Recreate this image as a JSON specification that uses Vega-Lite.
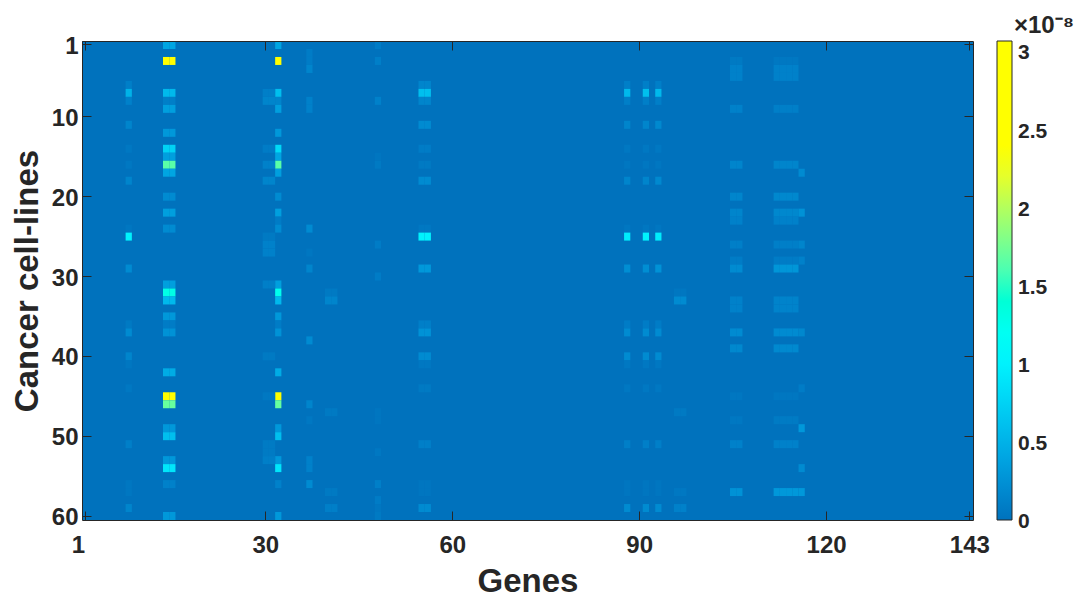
{"$schema":"https://vega.github.io/schema/vega-lite/v6.json","autosize":{"type":"none"},"padding":{"left":82,"top":41,"right":102,"bottom":76},"width":891,"height":479,"background":"white","view":{"fill":"#0072BD","stroke":null},"config":{"font":"Liberation Sans"},
"datasets":{"cells":[
{"c":14,"r":1,"v":0.4},{"c":15,"r":1,"v":0.4},{"c":32,"r":1,"v":0.4},{"c":14,"r":3,"v":3.05},{"c":15,"r":3,"v":3.05},{"c":32,"r":3,"v":3.05},{"c":14,"r":7,"v":0.55},{"c":15,"r":7,"v":0.55},{"c":32,"r":7,"v":0.6},{"c":14,"r":8,"v":0.1},{"c":15,"r":8,"v":0.1},{"c":32,"r":8,"v":0.15},{"c":14,"r":9,"v":0.35},{"c":15,"r":9,"v":0.35},{"c":32,"r":9,"v":0.35},{"c":14,"r":12,"v":0.3},{"c":15,"r":12,"v":0.3},{"c":32,"r":12,"v":0.3},{"c":14,"r":14,"v":0.75},{"c":15,"r":14,"v":0.75},{"c":32,"r":14,"v":0.8},{"c":14,"r":15,"v":0.35},{"c":15,"r":15,"v":0.35},{"c":32,"r":15,"v":0.4},{"c":14,"r":16,"v":1.65},{"c":15,"r":16,"v":1.65},{"c":32,"r":16,"v":1.65},{"c":14,"r":17,"v":0.4},{"c":15,"r":17,"v":0.4},{"c":32,"r":17,"v":0.35},{"c":14,"r":20,"v":0.2},{"c":15,"r":20,"v":0.2},{"c":32,"r":20,"v":0.2},{"c":14,"r":22,"v":0.35},{"c":15,"r":22,"v":0.35},{"c":32,"r":22,"v":0.35},{"c":32,"r":23,"v":0.08},{"c":14,"r":24,"v":0.2},{"c":15,"r":24,"v":0.2},{"c":32,"r":24,"v":0.2},{"c":14,"r":31,"v":0.35},{"c":15,"r":31,"v":0.35},{"c":32,"r":31,"v":0.35},{"c":14,"r":32,"v":1.3},{"c":15,"r":32,"v":1.3},{"c":32,"r":32,"v":1.25},{"c":14,"r":33,"v":0.55},{"c":15,"r":33,"v":0.55},{"c":32,"r":33,"v":0.55},{"c":14,"r":35,"v":0.3},{"c":15,"r":35,"v":0.3},{"c":32,"r":35,"v":0.3},{"c":14,"r":36,"v":0.08},{"c":15,"r":36,"v":0.08},{"c":32,"r":36,"v":0.08},{"c":14,"r":37,"v":0.25},{"c":15,"r":37,"v":0.25},{"c":32,"r":37,"v":0.25},{"c":14,"r":42,"v":0.45},{"c":15,"r":42,"v":0.45},{"c":32,"r":42,"v":0.45},{"c":14,"r":45,"v":3.0},{"c":15,"r":45,"v":3.0},{"c":32,"r":45,"v":3.0},{"c":14,"r":46,"v":1.7},{"c":15,"r":46,"v":1.7},{"c":32,"r":46,"v":1.7},{"c":14,"r":49,"v":0.3},{"c":15,"r":49,"v":0.3},{"c":32,"r":49,"v":0.3},{"c":14,"r":50,"v":0.6},{"c":15,"r":50,"v":0.6},{"c":32,"r":50,"v":0.6},{"c":14,"r":53,"v":0.3},{"c":15,"r":53,"v":0.3},{"c":32,"r":53,"v":0.3},{"c":14,"r":54,"v":0.9},{"c":15,"r":54,"v":0.9},{"c":32,"r":54,"v":0.9},{"c":14,"r":56,"v":0.12},{"c":15,"r":56,"v":0.12},{"c":32,"r":56,"v":0.12},{"c":14,"r":60,"v":0.3},{"c":15,"r":60,"v":0.3},{"c":32,"r":60,"v":0.3},
{"c":8,"r":6,"v":0.1},{"c":8,"r":7,"v":0.5},{"c":8,"r":8,"v":0.12},{"c":8,"r":11,"v":0.15},{"c":8,"r":14,"v":0.05},{"c":8,"r":16,"v":0.05},{"c":8,"r":18,"v":0.15},{"c":8,"r":24,"v":0.04},{"c":8,"r":25,"v":1.0},{"c":8,"r":29,"v":0.2},{"c":8,"r":36,"v":0.06},{"c":8,"r":37,"v":0.2},{"c":8,"r":40,"v":0.15},{"c":8,"r":41,"v":0.04},{"c":8,"r":44,"v":0.05},{"c":8,"r":51,"v":0.1},{"c":8,"r":56,"v":0.04},{"c":8,"r":57,"v":0.04},{"c":8,"r":59,"v":0.15},
{"c":30,"r":7,"v":0.1},{"c":31,"r":7,"v":0.1},{"c":30,"r":8,"v":0.15},{"c":31,"r":8,"v":0.15},{"c":30,"r":14,"v":0.08},{"c":31,"r":14,"v":0.08},{"c":30,"r":16,"v":0.12},{"c":31,"r":16,"v":0.12},{"c":30,"r":18,"v":0.15},{"c":31,"r":18,"v":0.15},{"c":30,"r":25,"v":0.06},{"c":31,"r":25,"v":0.06},{"c":30,"r":26,"v":0.12},{"c":31,"r":26,"v":0.12},{"c":30,"r":27,"v":0.12},{"c":31,"r":27,"v":0.12},{"c":30,"r":31,"v":0.1},{"c":31,"r":31,"v":0.1},{"c":30,"r":40,"v":0.06},{"c":31,"r":40,"v":0.06},{"c":30,"r":45,"v":0.05},{"c":31,"r":45,"v":0.05},{"c":30,"r":51,"v":0.07},{"c":31,"r":51,"v":0.07},{"c":30,"r":52,"v":0.07},{"c":31,"r":52,"v":0.07},{"c":30,"r":53,"v":0.1},{"c":31,"r":53,"v":0.1},
{"c":37,"r":2,"v":0.08},{"c":37,"r":3,"v":0.08},{"c":37,"r":4,"v":0.15},{"c":37,"r":8,"v":0.12},{"c":37,"r":9,"v":0.12},{"c":37,"r":24,"v":0.2},{"c":37,"r":27,"v":0.04},{"c":37,"r":29,"v":0.15},{"c":37,"r":38,"v":0.2},{"c":37,"r":46,"v":0.15},{"c":37,"r":48,"v":0.05},{"c":37,"r":53,"v":0.12},{"c":37,"r":54,"v":0.12},{"c":37,"r":56,"v":0.2},
{"c":40,"r":32,"v":0.06},{"c":41,"r":32,"v":0.06},{"c":40,"r":33,"v":0.15},{"c":41,"r":33,"v":0.15},{"c":40,"r":47,"v":0.06},{"c":41,"r":47,"v":0.06},{"c":40,"r":57,"v":0.06},{"c":41,"r":57,"v":0.06},{"c":40,"r":59,"v":0.1},{"c":41,"r":59,"v":0.1},
{"c":48,"r":1,"v":0.08},{"c":48,"r":3,"v":0.1},{"c":48,"r":8,"v":0.12},{"c":48,"r":15,"v":0.03},{"c":48,"r":16,"v":0.06},{"c":48,"r":26,"v":0.08},{"c":48,"r":30,"v":0.08},{"c":48,"r":47,"v":0.03},{"c":48,"r":48,"v":0.03},{"c":48,"r":52,"v":0.05},{"c":48,"r":56,"v":0.1},{"c":48,"r":58,"v":0.08},{"c":48,"r":59,"v":0.04},{"c":48,"r":60,"v":0.06},
{"c":55,"r":6,"v":0.15},{"c":56,"r":6,"v":0.15},{"c":55,"r":7,"v":0.6},{"c":56,"r":7,"v":0.6},{"c":55,"r":8,"v":0.15},{"c":56,"r":8,"v":0.15},{"c":55,"r":11,"v":0.2},{"c":56,"r":11,"v":0.2},{"c":55,"r":14,"v":0.08},{"c":56,"r":14,"v":0.08},{"c":55,"r":16,"v":0.06},{"c":56,"r":16,"v":0.06},{"c":55,"r":18,"v":0.2},{"c":56,"r":18,"v":0.2},{"c":55,"r":24,"v":0.05},{"c":56,"r":24,"v":0.05},{"c":55,"r":25,"v":1.0},{"c":56,"r":25,"v":1.0},{"c":55,"r":29,"v":0.3},{"c":56,"r":29,"v":0.3},{"c":55,"r":36,"v":0.1},{"c":56,"r":36,"v":0.1},{"c":55,"r":37,"v":0.25},{"c":56,"r":37,"v":0.25},{"c":55,"r":40,"v":0.2},{"c":56,"r":40,"v":0.2},{"c":55,"r":41,"v":0.05},{"c":56,"r":41,"v":0.05},{"c":55,"r":44,"v":0.06},{"c":56,"r":44,"v":0.06},{"c":55,"r":51,"v":0.1},{"c":56,"r":51,"v":0.1},{"c":55,"r":56,"v":0.03},{"c":56,"r":56,"v":0.03},{"c":55,"r":57,"v":0.03},{"c":56,"r":57,"v":0.03},{"c":55,"r":59,"v":0.2},{"c":56,"r":59,"v":0.2},
{"c":88,"r":6,"v":0.1},{"c":91,"r":6,"v":0.1},{"c":93,"r":6,"v":0.1},{"c":88,"r":7,"v":0.55},{"c":91,"r":7,"v":0.6},{"c":93,"r":7,"v":0.55},{"c":88,"r":8,"v":0.1},{"c":91,"r":8,"v":0.1},{"c":93,"r":8,"v":0.1},{"c":88,"r":11,"v":0.15},{"c":91,"r":11,"v":0.15},{"c":93,"r":11,"v":0.18},{"c":88,"r":14,"v":0.05},{"c":91,"r":14,"v":0.05},{"c":93,"r":14,"v":0.05},{"c":88,"r":16,"v":0.04},{"c":91,"r":16,"v":0.04},{"c":93,"r":16,"v":0.04},{"c":88,"r":18,"v":0.15},{"c":91,"r":18,"v":0.15},{"c":93,"r":18,"v":0.18},{"c":88,"r":24,"v":0.04},{"c":91,"r":24,"v":0.04},{"c":93,"r":24,"v":0.04},{"c":88,"r":25,"v":0.95},{"c":91,"r":25,"v":1.0},{"c":93,"r":25,"v":0.95},{"c":88,"r":29,"v":0.22},{"c":91,"r":29,"v":0.22},{"c":93,"r":29,"v":0.25},{"c":88,"r":36,"v":0.08},{"c":91,"r":36,"v":0.08},{"c":93,"r":36,"v":0.08},{"c":88,"r":37,"v":0.2},{"c":91,"r":37,"v":0.2},{"c":93,"r":37,"v":0.2},{"c":88,"r":40,"v":0.2},{"c":91,"r":40,"v":0.2},{"c":93,"r":40,"v":0.2},{"c":88,"r":41,"v":0.05},{"c":91,"r":41,"v":0.05},{"c":93,"r":41,"v":0.05},{"c":88,"r":44,"v":0.05},{"c":91,"r":44,"v":0.05},{"c":93,"r":44,"v":0.05},{"c":88,"r":51,"v":0.1},{"c":91,"r":51,"v":0.1},{"c":93,"r":51,"v":0.1},{"c":88,"r":56,"v":0.03},{"c":91,"r":56,"v":0.03},{"c":93,"r":56,"v":0.03},{"c":88,"r":57,"v":0.03},{"c":91,"r":57,"v":0.03},{"c":93,"r":57,"v":0.03},{"c":88,"r":59,"v":0.2},{"c":91,"r":59,"v":0.2},{"c":93,"r":59,"v":0.2},
{"c":96,"r":32,"v":0.04},{"c":97,"r":32,"v":0.04},{"c":96,"r":33,"v":0.2},{"c":97,"r":33,"v":0.2},{"c":96,"r":47,"v":0.06},{"c":97,"r":47,"v":0.06},{"c":96,"r":57,"v":0.05},{"c":97,"r":57,"v":0.05},{"c":96,"r":59,"v":0.12},{"c":97,"r":59,"v":0.12},
{"c":105,"r":3,"v":0.06},{"c":106,"r":3,"v":0.06},{"c":105,"r":4,"v":0.12},{"c":106,"r":4,"v":0.12},{"c":105,"r":5,"v":0.12},{"c":106,"r":5,"v":0.12},{"c":105,"r":9,"v":0.12},{"c":106,"r":9,"v":0.12},{"c":105,"r":16,"v":0.15},{"c":106,"r":16,"v":0.15},{"c":105,"r":20,"v":0.15},{"c":106,"r":20,"v":0.15},{"c":105,"r":22,"v":0.15},{"c":106,"r":22,"v":0.15},{"c":105,"r":23,"v":0.12},{"c":106,"r":23,"v":0.12},{"c":105,"r":26,"v":0.1},{"c":106,"r":26,"v":0.1},{"c":105,"r":28,"v":0.08},{"c":106,"r":28,"v":0.08},{"c":105,"r":29,"v":0.2},{"c":106,"r":29,"v":0.2},{"c":105,"r":33,"v":0.12},{"c":106,"r":33,"v":0.12},{"c":105,"r":34,"v":0.12},{"c":106,"r":34,"v":0.12},{"c":105,"r":37,"v":0.2},{"c":106,"r":37,"v":0.2},{"c":105,"r":39,"v":0.17},{"c":106,"r":39,"v":0.17},{"c":105,"r":45,"v":0.04},{"c":106,"r":45,"v":0.04},{"c":105,"r":48,"v":0.05},{"c":106,"r":48,"v":0.05},{"c":105,"r":51,"v":0.12},{"c":106,"r":51,"v":0.12},{"c":105,"r":57,"v":0.25},{"c":106,"r":57,"v":0.25},
{"c":112,"r":3,"v":0.05},{"c":113,"r":3,"v":0.05},{"c":114,"r":3,"v":0.05},{"c":115,"r":3,"v":0.05},{"c":112,"r":4,"v":0.12},{"c":113,"r":4,"v":0.12},{"c":114,"r":4,"v":0.12},{"c":115,"r":4,"v":0.12},{"c":112,"r":5,"v":0.12},{"c":113,"r":5,"v":0.12},{"c":114,"r":5,"v":0.12},{"c":115,"r":5,"v":0.12},{"c":112,"r":9,"v":0.1},{"c":113,"r":9,"v":0.1},{"c":114,"r":9,"v":0.1},{"c":115,"r":9,"v":0.1},{"c":112,"r":16,"v":0.15},{"c":113,"r":16,"v":0.15},{"c":114,"r":16,"v":0.15},{"c":115,"r":16,"v":0.15},{"c":112,"r":20,"v":0.17},{"c":113,"r":20,"v":0.17},{"c":114,"r":20,"v":0.17},{"c":115,"r":20,"v":0.17},{"c":112,"r":22,"v":0.17},{"c":113,"r":22,"v":0.17},{"c":114,"r":22,"v":0.17},{"c":115,"r":22,"v":0.17},{"c":112,"r":23,"v":0.12},{"c":113,"r":23,"v":0.12},{"c":114,"r":23,"v":0.12},{"c":115,"r":23,"v":0.12},{"c":112,"r":26,"v":0.1},{"c":113,"r":26,"v":0.1},{"c":114,"r":26,"v":0.1},{"c":115,"r":26,"v":0.1},{"c":112,"r":28,"v":0.08},{"c":113,"r":28,"v":0.08},{"c":114,"r":28,"v":0.08},{"c":115,"r":28,"v":0.08},{"c":112,"r":29,"v":0.28},{"c":113,"r":29,"v":0.28},{"c":114,"r":29,"v":0.28},{"c":115,"r":29,"v":0.28},{"c":112,"r":33,"v":0.13},{"c":113,"r":33,"v":0.13},{"c":114,"r":33,"v":0.13},{"c":115,"r":33,"v":0.13},{"c":112,"r":34,"v":0.13},{"c":113,"r":34,"v":0.13},{"c":114,"r":34,"v":0.13},{"c":115,"r":34,"v":0.13},{"c":112,"r":37,"v":0.2},{"c":113,"r":37,"v":0.2},{"c":114,"r":37,"v":0.2},{"c":115,"r":37,"v":0.2},{"c":112,"r":39,"v":0.18},{"c":113,"r":39,"v":0.18},{"c":114,"r":39,"v":0.18},{"c":115,"r":39,"v":0.18},{"c":112,"r":45,"v":0.04},{"c":113,"r":45,"v":0.04},{"c":114,"r":45,"v":0.04},{"c":115,"r":45,"v":0.04},{"c":112,"r":48,"v":0.07},{"c":113,"r":48,"v":0.07},{"c":114,"r":48,"v":0.07},{"c":115,"r":48,"v":0.07},{"c":112,"r":51,"v":0.12},{"c":113,"r":51,"v":0.12},{"c":114,"r":51,"v":0.12},{"c":115,"r":51,"v":0.12},{"c":112,"r":57,"v":0.3},{"c":113,"r":57,"v":0.3},{"c":114,"r":57,"v":0.3},{"c":115,"r":57,"v":0.3},
{"c":116,"r":17,"v":0.2},{"c":116,"r":22,"v":0.25},{"c":116,"r":26,"v":0.15},{"c":116,"r":28,"v":0.12},{"c":116,"r":37,"v":0.17},{"c":116,"r":44,"v":0.08},{"c":116,"r":49,"v":0.3},{"c":116,"r":54,"v":0.2},{"c":116,"r":57,"v":0.3}
]},
"data":{"name":"cells"},
"layer":[
{"mark":{"type":"rect","stroke":null},
"encoding":{
"x":{"field":"c","type":"ordinal","scale":{"domain":[1,2,3,4,5,6,7,8,9,10,11,12,13,14,15,16,17,18,19,20,21,22,23,24,25,26,27,28,29,30,31,32,33,34,35,36,37,38,39,40,41,42,43,44,45,46,47,48,49,50,51,52,53,54,55,56,57,58,59,60,61,62,63,64,65,66,67,68,69,70,71,72,73,74,75,76,77,78,79,80,81,82,83,84,85,86,87,88,89,90,91,92,93,94,95,96,97,98,99,100,101,102,103,104,105,106,107,108,109,110,111,112,113,114,115,116,117,118,119,120,121,122,123,124,125,126,127,128,129,130,131,132,133,134,135,136,137,138,139,140,141,142,143],"paddingInner":0,"paddingOuter":0,"round":false},
"axis":{"orient":"bottom","values":[1,30,60,90,120,143],"title":"Genes","titleFontSize":33,"titleFontWeight":"bold","titleColor":"#262626","titlePadding":8,"labelFontSize":24,"labelFontWeight":"bold","labelColor":"#262626","labelAngle":0,"labelPadding":22,"labelAlign":{"expr":"datum.value==1?'right':'center'"},"tickSize":-9,"tickColor":"#262626","tickWidth":1,"domainColor":"#262626","domainWidth":1,"grid":false,"zindex":1,"labelOverlap":false,"labelBound":false}},
"y":{"field":"r","type":"ordinal","scale":{"domain":[1,2,3,4,5,6,7,8,9,10,11,12,13,14,15,16,17,18,19,20,21,22,23,24,25,26,27,28,29,30,31,32,33,34,35,36,37,38,39,40,41,42,43,44,45,46,47,48,49,50,51,52,53,54,55,56,57,58,59,60],"paddingInner":0,"paddingOuter":0,"round":false},
"axis":{"orient":"left","values":[1,10,20,30,40,50,60],"title":"Cancer cell-lines","titleFontSize":33,"titleFontWeight":"bold","titleColor":"#262626","titlePadding":7,"labelFontSize":24,"labelFontWeight":"bold","labelColor":"#262626","labelPadding":13,"labelOffset":2,"tickSize":-9,"tickColor":"#262626","tickWidth":1,"domainColor":"#262626","domainWidth":1,"grid":false,"zindex":1,"labelOverlap":false,"labelBound":false}},
"color":{"field":"v","type":"quantitative","scale":{"type":"linear","domain":[0,1.1,2.3,3.067],"range":["#0072BD","#00FFFF","#FFFF00","#FFFF00"]},
"legend":{"orient":"none","legendX":915,"legendY":-27,"title":"×10⁻⁸","titleFontSize":24,"titleFontWeight":"bold","titleColor":"#262626","titlePadding":3,"titleAnchor":"start","gradientLength":479,"gradientThickness":15,"gradientStrokeColor":"#262626","gradientStrokeWidth":1,"values":[0,0.5,1,1.5,2,2.5,3],"format":"~g","labelFontSize":21,"labelFontWeight":"bold","labelColor":"#262626","labelOffset":6,"labelOverlap":false,"tickCount":7,"encoding":{"labels":{"baseline":{"value":"middle"},"dy":{"value":2}},"title":{"dx":{"value":17}}}}}}},
{"mark":{"type":"rect","opacity":0},
"encoding":{
"x":{"field":"c","type":"ordinal","axis":{"orient":"top","values":[1,30,60,90,120,143],"title":null,"labels":false,"tickSize":-9,"tickColor":"#262626","tickWidth":1,"domainColor":"#262626","domainWidth":1,"grid":false,"zindex":1}},
"y":{"field":"r","type":"ordinal","axis":{"orient":"right","values":[1,10,20,30,40,50,60],"title":null,"labels":false,"tickSize":-9,"tickColor":"#262626","tickWidth":1,"domainColor":"#262626","domainWidth":1,"grid":false,"zindex":1}}}}
],
"resolve":{"axis":{"x":"independent","y":"independent"}}}
